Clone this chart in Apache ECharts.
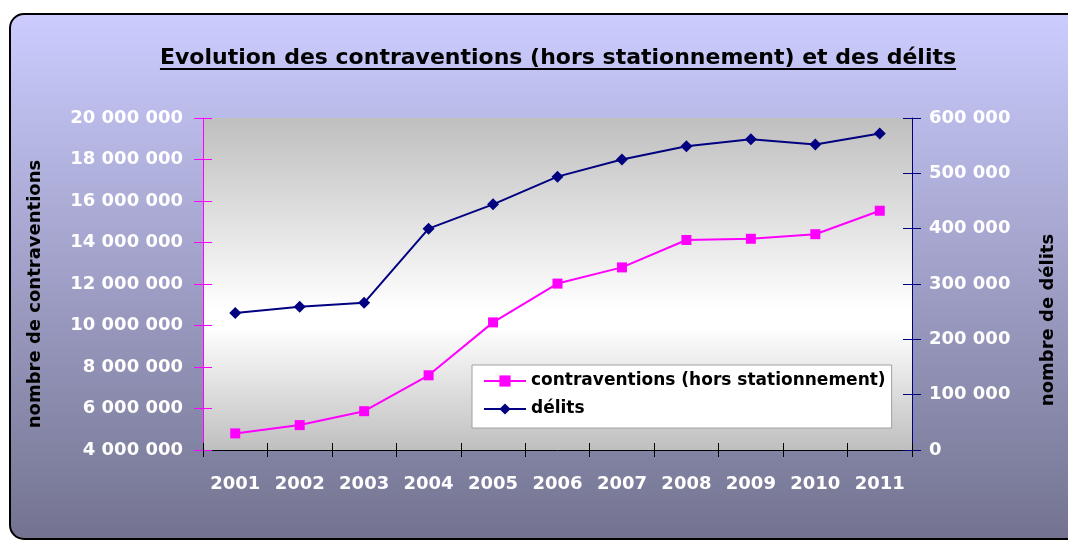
<!DOCTYPE html>
<html><head><meta charset="utf-8">
<script src="https://cdn.jsdelivr.net/npm/echarts@6/dist/echarts.min.js"></script>
<style>html,body{margin:0;padding:0;background:#fff}#c{width:1068px;height:540px}</style>
</head><body><div id="c"></div>
<script>
const years = ['2001','2002','2003','2004','2005','2006','2007','2008','2009','2010','2011'];
const contraventions = [4800000, 5200000, 5870000, 7600000, 10150000, 12020000, 12800000, 14120000, 14180000, 14400000, 15530000];
const delits = [247500, 259000, 266000, 400000, 444000, 494000, 525000, 549000, 561500, 552000, 572000];
const leftAxisRange = [4000000, 20000000, 2000000];
const rightAxisRange = [0, 600000, 100000];
const titleText = 'Evolution des contraventions (hors stationnement) et des délits';
const seriesNames = ['contraventions (hors stationnement)', 'délits'];
const axisNames = ['nombre de contraventions', 'nombre de délits'];

const F = '"DejaVu Sans"';
const titleFont = 'bold 22px "DejaVu Sans"';
const fmt = v => String(v).replace(/\B(?=(\d{3})+(?!\d))/g, ' ');
const cv = document.createElement('canvas').getContext('2d');
cv.font = titleFont;
const tw = cv.measureText(titleText).width;

const chart = echarts.init(document.getElementById('c'), null, {renderer: 'canvas'});
const lbl = {color: '#fff', fontFamily: F, fontWeight: 'bold', fontSize: 18};
function yAx(range, pos, color, inside, show, margin) {
  return {
    type: 'value', position: pos, min: range[0], max: range[1], interval: range[2],
    splitLine: {show: false},
    axisLine: {show: show, lineStyle: {color: color, width: 1}},
    axisTick: {show: true, inside: inside, length: 9, lineStyle: {color: color, width: 1}},
    axisLabel: show ? Object.assign({formatter: fmt, margin: margin}, lbl) : {show: false}
  };
}
chart.setOption({
  animation: false,
  graphic: [
    {type: 'rect', z: -10, shape: {x: 10, y: 14, width: 1075, height: 525, r: 14},
     style: {fill: new echarts.graphic.LinearGradient(0, 0, 0, 1, [{offset: 0, color: '#ccccff'}, {offset: 1, color: '#737390'}]), stroke: '#000', lineWidth: 2}},
    {type: 'text', x: 558, y: 58, style: {text: titleText, font: titleFont, fill: '#000', align: 'center', verticalAlign: 'middle'}},
    {type: 'rect', shape: {x: 558 - tw / 2, y: 68, width: tw, height: 2}, style: {fill: '#000'}},
    {type: 'text', x: 35, y: 294, rotation: Math.PI / 2, style: {text: axisNames[0], font: 'bold 18px ' + F, fill: '#000', align: 'center', verticalAlign: 'middle'}},
    {type: 'text', x: 1048, y: 320, rotation: Math.PI / 2, style: {text: axisNames[1], font: 'bold 18px ' + F, fill: '#000', align: 'center', verticalAlign: 'middle'}}
  ],
  grid: {left: 203, right: 156, top: 118, bottom: 90, show: true, borderWidth: 0,
    backgroundColor: new echarts.graphic.LinearGradient(0, 0, 0, 1, [
      {offset: 0, color: '#bfbfbf'}, {offset: 0.58, color: '#ffffff'}, {offset: 0.63, color: '#ffffff'}, {offset: 1, color: '#bfbfbf'}])},
  legend: {
    orient: 'vertical', left: 472, top: 365, backgroundColor: '#fff', borderColor: '#a0a0a0', borderWidth: 1,
    padding: [6, 6, 9, 11], itemGap: 8, itemWidth: 42, itemHeight: 14,
    textStyle: {color: '#000', fontFamily: F, fontWeight: 'bold', fontSize: 17, lineHeight: 20},
    data: seriesNames
  },
  xAxis: [
    {type: 'category', data: years, position: 'bottom', boundaryGap: true,
     axisLine: {lineStyle: {color: '#000', width: 1}},
     axisTick: {show: true, length: 7, interval: 0, lineStyle: {color: '#000'}},
     axisLabel: Object.assign({margin: 25, interval: 0}, lbl)},
    {type: 'category', data: years, position: 'bottom', offset: 0, boundaryGap: true,
     axisLine: {show: false},
     axisTick: {show: true, inside: true, length: 7, interval: 0, lineStyle: {color: '#000'}},
     axisLabel: {show: false}}
  ],
  yAxis: [
    yAx(leftAxisRange, 'left', '#ff00ff', false, true, 20),
    yAx(rightAxisRange, 'right', '#000080', false, true, 17),
    Object.assign(yAx(leftAxisRange, 'left', '#ff00ff', true, false, 0), {offset: 0}),
    Object.assign(yAx(rightAxisRange, 'right', '#000080', true, false, 0), {offset: 0})
  ],
  series: [
    {name: seriesNames[0], type: 'line', yAxisIndex: 0, data: contraventions, symbol: 'rect', symbolSize: 10,
     lineStyle: {color: '#ff00ff', width: 2}, itemStyle: {color: '#ff00ff'}},
    {name: seriesNames[1], type: 'line', yAxisIndex: 1, data: delits, symbol: 'diamond', symbolSize: 12,
     lineStyle: {color: '#000080', width: 2}, itemStyle: {color: '#000080'}}
  ]
});
</script></body></html>
